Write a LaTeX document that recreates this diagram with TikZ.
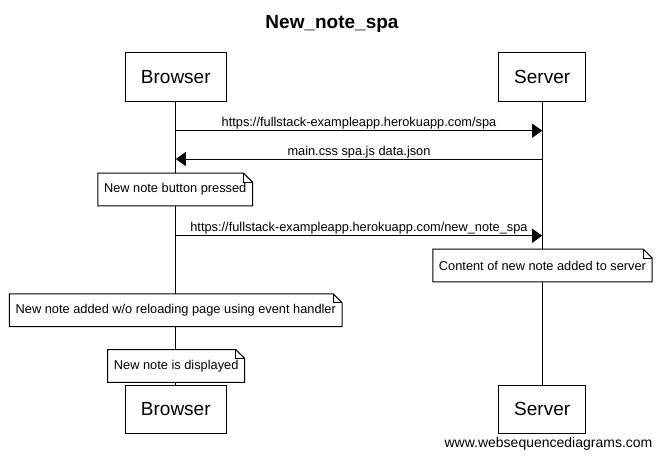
\documentclass[tikz,border=0pt]{standalone}
\usepackage{fontspec}
\setmainfont{Liberation Sans}
\usetikzlibrary{arrows.meta}
\tikzset{
  actor/.style={draw, line width=1pt, fill=white, minimum height=48.3pt, inner xsep=15.5pt, inner ysep=0pt, font=\fontsize{19}{22}\selectfont},
  notebox/.style={fill=white, minimum height=32.4pt, inner xsep=6pt, inner ysep=0pt, font=\fontsize{12.8}{15}\selectfont},
  noteline/.style={line width=1pt, line join=miter},
  lifeline/.style={line width=1pt},
  msg/.style={line width=1pt, -{Triangle[length=10pt,width=14pt]}},
  msglabel/.style={font=\fontsize{12.8}{15}\selectfont, anchor=base, inner sep=0pt},
}
\newcommand{\dogear}[1]{%
  \draw[noteline] (#1.north west) -- ([xshift=-9pt]#1.north east) -- ([yshift=-9pt]#1.north east) -- (#1.south east) -- (#1.south west) -- cycle;
  \draw[noteline] ([xshift=-9pt]#1.north east) -- ([xshift=-9pt,yshift=-9pt]#1.north east) -- ([yshift=-9pt]#1.north east);
}
\begin{document}
\begin{tikzpicture}[x=1pt,y=-1pt]
\useasboundingbox (0,0) rectangle (661,456);
% title
\node[font=\fontsize{19}{22}\selectfont\bfseries, anchor=base, inner sep=0pt] (title) at (332,28.3) {New\_note\_spa};
% actors
\node[actor] (btop) at (175.8,76.9) {Browser};
\node[actor] (stop) at (542.2,76.9) {Server};
\node[actor] (bbot) at (175.8,409.2) {Browser};
\node[actor] (sbot) at (542.2,409.2) {Server};
% lifelines
\draw[lifeline] (btop.south) -- (bbot.north);
\draw[lifeline] (stop.south) -- (sbot.north);
% message points
\coordinate (b1) at (175.8,130.7);
\coordinate (s1) at (542.2,130.7);
\coordinate (b2) at (175.8,159);
\coordinate (s2) at (542.2,159);
\coordinate (b3) at (175.8,235.7);
\coordinate (s3) at (542.2,235.7);
% messages
\draw[msg] (b1) -- (s1);
\node[msglabel] (l1) at (359,126) {https://fullstack-exampleapp.herokuapp.com/spa};
\draw[msg] (s2) -- (b2);
\node[msglabel] (l2) at (359,155) {main.css spa.js data.json};
\draw[msg] (b3) -- (s3);
\node[msglabel] (l3) at (359,231) {https://fullstack-exampleapp.herokuapp.com/new\_note\_spa};
% notes
\node[notebox] (n1) at (175.2,189.5) {New note button pressed};
\dogear{n1}
\node[notebox] (n2) at (542.5,265.5) {Content of new note added to server};
\dogear{n2}
\node[notebox] (n3) at (175.8,310.2) {New note added w/o reloading page using event handler};
\dogear{n3}
\node[notebox] (n4) at (176.2,365.9) {New note is displayed};
\dogear{n4}
% watermark
\node[font=\fontsize{14}{16}\selectfont, anchor=base, inner sep=0pt] (wm) at (548.5,447.7) {www.websequencediagrams.com};
\end{tikzpicture}
\end{document}
